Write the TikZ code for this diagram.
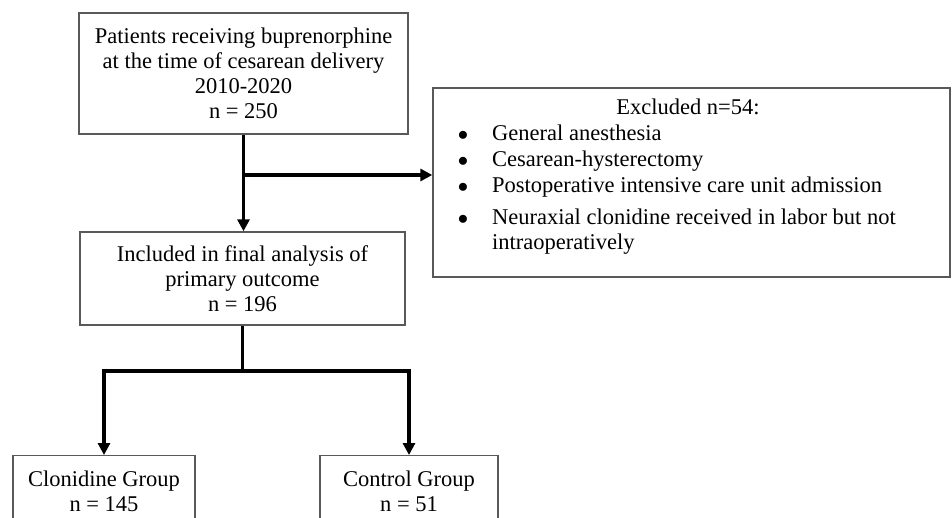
\documentclass[tikz,border=0pt]{standalone}
\usepackage{fontspec}
\setmainfont{Liberation Serif}
\usetikzlibrary{arrows.meta}
\begin{document}
\begin{tikzpicture}[x=1pt,y=-1pt,
  box/.style={draw=black!65, line width=1.4pt, fill=white, align=center, inner sep=0pt,
    font=\fontsize{22.5}{25}\selectfont},
  txt/.style={inner sep=0pt, font=\fontsize{22.5}{25}\selectfont},
  conn/.style={line width=3.6pt},
  arr/.style={line width=3.6pt, -{Triangle[length=12pt,width=12pt]}}]
\useasboundingbox (0,0) rectangle (952,518);
\clip (0,0) rectangle (952,518);
\node[box, minimum width=329, minimum height=121] (top) at (243.5,73.5)
  {Patients receiving buprenorphine\\at the time of cesarean delivery\\2010-2020\\n = 250};
\node[box, minimum width=325, minimum height=93] (incl) at (242.5,278.5)
  {Included in final analysis of\\primary outcome\\n = 196};
\node[box, minimum width=517, minimum height=189] (excl) at (691.5,182.5) {};
\node[txt, anchor=mid] (t0) at (688,112) {Excluded n=54:};
\node[txt, anchor=mid] (b1) at (463,138) {$\bullet$};
\node[txt, anchor=mid west] (i1) at (492,138) {General anesthesia};
\node[txt, anchor=mid] (b2) at (463,164) {$\bullet$};
\node[txt, anchor=mid west] (i2) at (492,164) {Cesarean-hysterectomy};
\node[txt, anchor=mid] (b3) at (463,190) {$\bullet$};
\node[txt, anchor=mid west] (i3) at (492,190) {Postoperative intensive care unit admission};
\node[txt, anchor=mid] (b4) at (463,222) {$\bullet$};
\node[txt, anchor=mid west] (i4) at (492,222) {Neuraxial clonidine received in labor but not};
\node[txt, anchor=mid west] (i5) at (492,247) {intraoperatively};
\node[box, minimum width=182, minimum height=72, anchor=north] (clon) at (104,455)
  {Clonidine Group\\n = 145};
\node[box, minimum width=178, minimum height=72, anchor=north] (ctrl) at (409,455)
  {Control Group\\n = 51};
\draw[arr] (top.south) -- (top.south |- incl.north);
\coordinate (br) at (242.5,175);
\draw[arr] (br) -- (br -| excl.west);
\coordinate (j) at (242.5,371);
\draw[conn] (incl.south) -- (j);
\draw[arr, line join=miter] (j) -| (clon.north);
\draw[arr, line join=miter] (j) -| (ctrl.north);
\end{tikzpicture}
\end{document}
